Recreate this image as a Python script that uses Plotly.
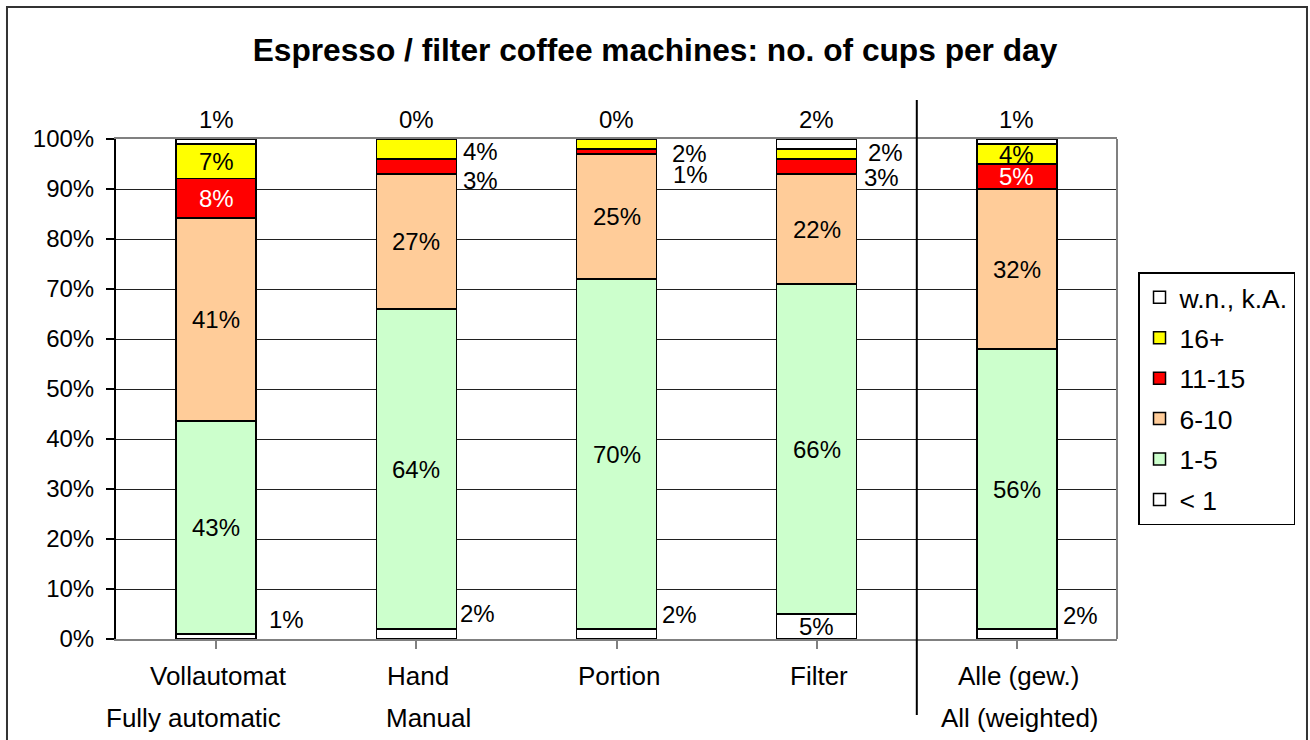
import numpy as np
import plotly.graph_objects as go

# ---------------- data ----------------
categories = ["Vollautomat", "Hand", "Portion", "Filter", "Alle (gew.)"]
categories_en = ["Fully automatic", "Manual", "", "", "All (weighted)"]
series_names = ["< 1", "1-5", "6-10", "11-15", "16+", "w.n., k.A."]

lt1 = [1, 2, 2, 5, 2]
c1_5 = [43, 64, 70, 66, 56]
c6_10 = [41, 27, 25, 22, 32]
c11_15 = [8, 3, 1, 3, 5]
c16p = [7, 4, 2, 2, 4]
wnka = [1, 0, 0, 2, 1]

y_ticks = [0, 10, 20, 30, 40, 50, 60, 70, 80, 90, 100]

# ---------------- style ----------------
colors = ["#FFFFFF", "#CCFFCC", "#FFCC99", "#FF0000", "#FFFF00", "#FFFFFF"]
FONT = "Liberation Sans, Arial, sans-serif"
BAR_W = 0.4

series = [lt1, c1_5, c6_10, c11_15, c16p, wnka]
vals = np.array(series, dtype=float)             # shape (6, 5)
totals = vals.sum(axis=0)
norm = vals / totals * 100.0
tops = np.cumsum(norm, axis=0)
bases = tops - norm

# label placement (series idx, category idx) -> (xshift gap, yshift) for labels placed right of bar
right_labels = {
    (0, 0): (13, 17.5), (0, 1): (4, 21), (0, 2): (5, 20), (0, 4): (6, 19),
    (3, 1): (7, -13.5), (4, 1): (7, -2),
    (3, 2): (16, -22.5), (4, 2): (15, -9),
    (3, 3): (7, -10.5), (4, 3): (11, 2),
}

fig = go.Figure()
for s in range(len(series)):
    fig.add_trace(go.Bar(
        x=list(range(len(categories))), y=series[s], name=series_names[s],
        width=BAR_W, marker=dict(color=colors[s], line=dict(color="black", width=1.5)),
        legendgroup=f"g{s}", legendrank=100 - s, hoverinfo="skip",
    ))

annotations = []
for s in range(len(series)):
    for c in range(len(categories)):
        txt = f"{int(series[s][c])}%"
        if s == 5:
            annotations.append(dict(x=c, y=100, xref="x", yref="y", text=txt, showarrow=False,
                                    yshift=20, yanchor="middle", xanchor="center",
                                    font=dict(size=24, color="black", family=FONT)))
        elif (s, c) in right_labels:
            gap, ysh = right_labels[(s, c)]
            annotations.append(dict(x=c + BAR_W / 2, y=bases[s, c] + norm[s, c] / 2, xref="x", yref="y",
                                    text=txt, showarrow=False, xanchor="left", yanchor="middle",
                                    xshift=gap - 2, yshift=ysh,
                                    font=dict(size=24, color="black", family=FONT)))
        else:
            col = "white" if s == 3 else "black"
            annotations.append(dict(x=c, y=bases[s, c] + norm[s, c] / 2, xref="x", yref="y",
                                    text=txt, showarrow=False, xanchor="center", yanchor="middle",
                                    font=dict(size=24, color=col, family=FONT)))

# category labels (two rows)
en_shift = [-23, 12.5, 0, 0, 3.5]
for c in range(len(categories)):
    annotations.append(dict(x=c, y=-0.074, xref="x", yref="paper", text=categories[c], showarrow=False,
                            xanchor="center", yanchor="middle", xshift=2,
                            font=dict(size=26, color="black", family=FONT)))
    if categories_en[c]:
        annotations.append(dict(x=c, y=-0.158, xref="x", yref="paper", text=categories_en[c], showarrow=False,
                                xanchor="center", yanchor="middle", xshift=en_shift[c],
                                font=dict(size=26, color="black", family=FONT)))

fig.update_layout(
    barmode="stack", barnorm="percent",
    width=1310, height=740,
    margin=dict(l=116, r=193, t=139, b=101),
    paper_bgcolor="white", plot_bgcolor="white",
    font=dict(family=FONT, size=24, color="black"),
    title=dict(text="<b>Espresso / filter coffee machines: no. of cups per day</b>",
               x=0.5, xref="container", xanchor="center",
               y=1 - 50 / 740, yref="container", yanchor="middle",
               font=dict(size=31.7, color="black", family=FONT)),
    showlegend=True,
    legend=dict(x=1.021, y=0.734, xanchor="left", yanchor="top",
                traceorder="grouped", tracegroupgap=3,
                bordercolor="black", borderwidth=1.5, bgcolor="white",
                font=dict(size=26.5, family=FONT, color="black"),
                itemwidth=30),
    annotations=annotations,
    xaxis=dict(range=[-0.5, len(categories) - 0.5], showticklabels=False, tickmode="array",
               tickvals=list(range(len(categories))), ticks="outside", tickson="boundaries",
               ticklen=8, tickcolor="#808080", tickwidth=2,
               showline=True, linecolor="#808080", linewidth=2, mirror=True,
               showgrid=False, zeroline=False, fixedrange=True),
    yaxis=dict(range=[0, 100], tickmode="array", tickvals=y_ticks,
               ticktext=[f"{v}%" for v in y_ticks],
               ticks="outside", ticklen=8, tickcolor="black", tickwidth=1.5,
               ticklabelstandoff=7,
               showline=True, linecolor="black", linewidth=2,
               showgrid=True, gridcolor="#202020", gridwidth=1,
               zeroline=False, tickfont=dict(size=24, family=FONT, color="black")),
    shapes=[
        # right border of plot area
        dict(type="line", xref="paper", yref="paper", x0=1, x1=1, y0=0, y1=1,
             line=dict(color="#808080", width=2)),
        # separator between individual groups and the weighted total
        dict(type="line", xref="paper", yref="paper", x0=0.8, x1=0.8, y0=-0.152, y1=1.078,
             line=dict(color="black", width=2)),
        # outer frame
        dict(type="rect", xref="paper", yref="paper", x0=-0.1089, x1=1.1898, y0=-0.35, y1=1.264,
             line=dict(color="#333333", width=2), fillcolor="rgba(0,0,0,0)"),
    ],
)

fig.write_html("out.html", config={"displayModeBar": False},
               post_script="document.body.style.margin='0px';")
